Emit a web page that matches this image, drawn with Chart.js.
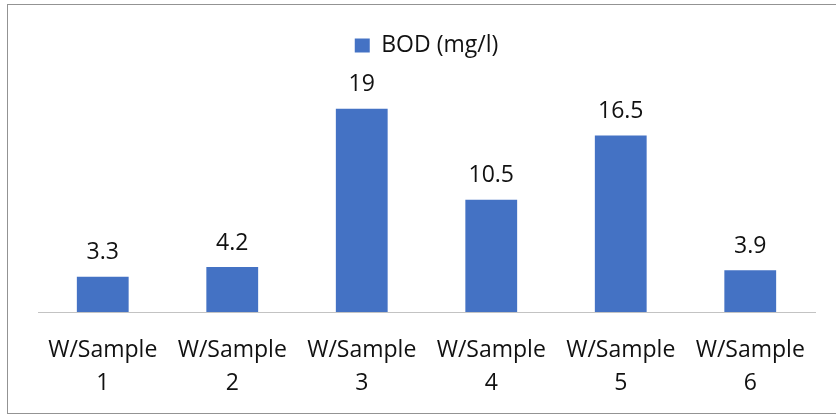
<!DOCTYPE html>
<html lang="en">
<head>
    <meta charset="UTF-8">
    <title>BOD chart</title>
    <script src="https://cdn.jsdelivr.net/npm/chart.js"></script>
    <style>
        html, body { margin: 0; padding: 0; background: #fff; overflow: hidden; }
        .wrap { position: relative; width: 836px; height: 416px; }
        .frame { position: absolute; left: 7px; top: 4px; width: 900px; height: 408px; border: 1px solid #939393; }
        .wrap canvas { position: absolute; left: 0; top: 0; }
    </style>
</head>
<body>
<div class="wrap">
    <div class="frame"></div>
    <canvas id="bodChart" width="836" height="416"></canvas>
</div>
<script>
const categories = [
    ['W/Sample', '1'],
    ['W/Sample', '2'],
    ['W/Sample', '3'],
    ['W/Sample', '4'],
    ['W/Sample', '5'],
    ['W/Sample', '6']
];
const seriesName = 'BOD (mg/l)';
const bodValues = [3.3, 4.2, 19, 10.5, 16.5, 3.9];

const FONT = '"Open Sans", "Liberation Sans", sans-serif';

// value labels above each bar, like excel data labels
const barLabels = {
    id: 'barLabels',
    afterDatasetsDraw(chart) {
        const ctx = chart.ctx;
        const meta = chart.getDatasetMeta(0);
        ctx.save();
        ctx.font = '23px ' + FONT;
        ctx.fillStyle = '#111';
        ctx.textAlign = 'center';
        ctx.textBaseline = 'alphabetic';
        meta.data.forEach((bar, i) => {
            ctx.fillText(String(bodValues[i]), bar.x, bar.y - 17.5);
        });
        ctx.restore();
    }
};

const ctx = document.getElementById('bodChart').getContext('2d');
new Chart(ctx, {
    type: 'bar',
    data: {
        labels: categories,
        datasets: [{
            label: seriesName,
            data: bodValues,
            backgroundColor: '#4472C4',
            borderWidth: 0,
            categoryPercentage: 1,
            barPercentage: 0.4
        }]
    },
    options: {
        responsive: false,
        animation: false,
        layout: { padding: { top: 14, left: 38, right: 21, bottom: 0 } },
        plugins: {
            legend: {
                display: true,
                position: 'top',
                labels: {
                    boxWidth: 15,
                    boxHeight: 14,
                    padding: 20,
                    color: '#111',
                    font: { family: FONT, size: 23 }
                }
            },
            tooltip: { enabled: false }
        },
        scales: {
            x: {
                grid: { display: false },
                border: { display: true, color: '#c3c3c3', width: 1 },
                ticks: {
                    color: '#111',
                    padding: 14,
                    maxRotation: 0,
                    autoSkip: false,
                    font: { family: FONT, size: 23, lineHeight: 1.42 }
                },
                afterFit(scale) { scale.height = 104; }
            },
            y: {
                display: false,
                min: 0,
                max: 22.9
            }
        }
    },
    plugins: [barLabels]
});
</script>
</body>
</html>
